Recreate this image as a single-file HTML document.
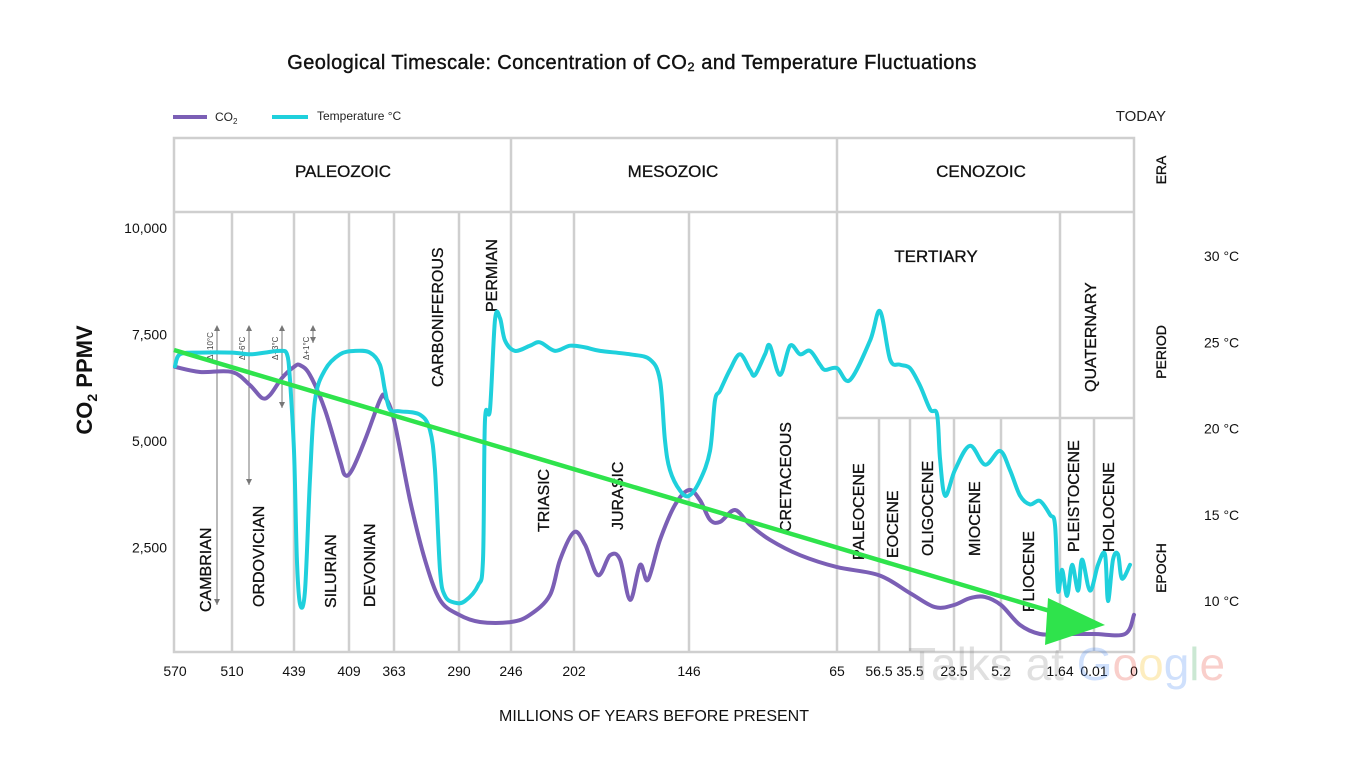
<!DOCTYPE html>
<html><head><meta charset="utf-8"><style>
html,body{margin:0;padding:0;background:#fff;}
svg{display:block;font-family:"Liberation Sans",sans-serif;}
</style></head><body>
<svg id="chart" width="1366" height="768" viewBox="0 0 1366 768">
<text x="632" y="69" text-anchor="middle" font-size="20" letter-spacing="0.4" stroke="#111" stroke-width="0.4" fill="#111">Geological Timescale: Concentration of CO₂ and Temperature Fluctuations</text>
<g>
<line x1="173" y1="117" x2="207" y2="117" stroke="#7b5fb5" stroke-width="4"/>
<text x="215" y="121" font-size="12" fill="#222">CO<tspan font-size="8" dy="3">2</tspan></text>
<line x1="272" y1="117" x2="308" y2="117" stroke="#1fd0dc" stroke-width="4"/>
<text x="317" y="120" font-size="12" fill="#222">Temperature °C</text>
</g>
<text x="1166" y="121" text-anchor="end" font-size="15" fill="#222">TODAY</text>
<g id="grid" stroke="#cfcfcf" stroke-width="2.5" fill="none"></g>
<g id="labels" font-size="16" fill="#111"></g>
<g id="axes"></g>
<g id="series"></g>
<g>
<line x1="174" y1="350" x2="1060" y2="614" stroke="#2fe34c" stroke-width="4.5"/>
<polygon points="1105,625 1048,598 1045,645" fill="#2fe34c"/>
</g>
<text x="92" y="380" transform="rotate(-90 92 380)" text-anchor="middle" font-size="22" font-weight="bold" fill="#111">CO<tspan font-size="14" dy="5">2</tspan><tspan dy="-5"> PPMV</tspan></text>
<text x="654" y="721" text-anchor="middle" font-size="16" fill="#111">MILLIONS OF YEARS BEFORE PRESENT</text>
<g font-size="46" opacity="0.25">
<text x="908" y="680" fill="#888">Talks at <tspan fill="#4285f4">G</tspan><tspan fill="#ea4335">o</tspan><tspan fill="#fbbc05">o</tspan><tspan fill="#4285f4">g</tspan><tspan fill="#34a853">l</tspan><tspan fill="#ea4335">e</tspan></text>
</g>
</svg>
<script>
// x axis tick ages and their column positions (non-linear timescale)
const tickAges=[570,510,439,409,363,290,246,202,146,65,56.5,35.5,23.5,5.2,1.64,0.01,0];
const tickLabels=["570","510","439","409","363","290","246","202","146","65","56.5","35.5","23.5","5.2","1.64","0.01","0"];
const co2Ticks=[10000,7500,5000,2500];
const co2TickLabels=["10,000","7,500","5,000","2,500"];
const tempTicks=[30,25,20,15,10];
const tempTickLabels=["30 °C","25 °C","20 °C","15 °C","10 °C"];
const co2Ages=[570,543.7,510,489.4,475.6,466.5,452.7,439,435.7,430.3,422.1,413.9,411.2,405.9,392.7,377.4,372.2,363,345,328.2,311.3,290,272.2,246,232.7,218.8,211.8,202,196.6,190.3,184.4,179.5,174.7,169.8,166,160.1,152.8,146,140,134.5,129,120.8,112.6,101.7,85.2,65,56.5,35.5,28.7,23.5,17.3,11.5,5.2,4.05,2.85,1.64,0.01,0.00225,0];
const co2Values=[6740,6620,6620,6310,6010,6080,6480,6740,6780,6550,5730,4550,4200,4320,5020,5960,6030,5490,3610,2210,1270,920,750,750,920,1380,2210,2860,2560,1850,2320,2210,1270,2090,1740,2680,3500,3850,3610,3150,3100,3380,3030,2680,2320,2040,1850,1430,1100,1150,1310,1340,1150,680,470,470,470,470,920];
const tempAges=[570,564.7,543.7,510,489.4,472.2,455,447,443.6,439,437.4,435.7,433,430.3,427.6,422.1,413.9,402.9,387.6,377.4,372.2,367.1,356.3,333.8,322.6,317,311.3,305.7,294.5,284.9,273.9,269.7,268,263.8,259.5,255.3,251.1,243.2,232.7,225.8,215.3,204.8,196.6,189.3,174.7,165,160.1,157.7,155.3,150.4,146,140,134.5,131.8,129,123.6,118.1,112.6,109.9,104.4,101.7,96.2,90.7,85.2,79.8,74.3,71.6,65,62.4,58.3,55.8,49,42.3,35.5,32.8,30,28.1,27.3,25.9,23.1,17.3,11.4,5.6,4.66,4.05,3.45,2.85,2.24,1.94,1.76,1.54,1.3,1.06,0.77,0.58,0.2,0.009,0.00725,0.0065,0.00525,0.004,0.003,0.001];
const tempValues=[23.6,24.3,24.4,24.4,24.3,24.4,24.5,24.3,22.8,18.7,12.4,9.8,10.6,17,21.6,23.4,24.3,24.5,24.4,23.7,22.2,21.1,21,20.8,19.9,17.6,11.8,10.3,9.9,10,10.9,12.4,20.5,21.1,26.3,26.4,25.1,24.5,24.8,25,24.5,24.8,24.7,24.5,24.3,24,22.8,19.3,17.6,16.4,16.1,17,18.7,21.6,22.2,23.4,24.3,23.4,23.1,24.3,24.8,23.1,24.8,24.3,24.5,23.7,23.4,23.5,22.8,25.1,26.8,24,23.7,23.5,22.5,21.1,20.8,18.2,16.1,17.6,19,17.9,18.7,17.6,16.1,15.6,15.8,15,14.4,10.6,11.8,10.3,12.1,10.6,12.4,10.6,12.1,12.7,10.0,12.4,12.7,11.3,12.1];
const tickPos=[175,232,294,349,394,459,511,574,689,837,879,910,954,1001,1060,1094,1134];
function xScale(a){
  for(let i=0;i<tickAges.length-1;i++){
    const a0=tickAges[i],a1=tickAges[i+1];
    if(a<=a0&&a>=a1){return tickPos[i]+(a0-a)/(a0-a1)*(tickPos[i+1]-tickPos[i]);}
  }
  return a>tickAges[0]?tickPos[0]:tickPos[tickPos.length-1];
}
function yCO2(v){return 654-v/2500*106.5;}
function yTemp(t){return 601-(t-10)/20*345;}
const NS="http://www.w3.org/2000/svg";
function mk(tag,attrs,parent){const e=document.createElementNS(NS,tag);for(const k in attrs)e.setAttribute(k,attrs[k]);parent.appendChild(e);return e;}
const grid=document.getElementById('grid');
const r=mk('rect',{x:174,y:138,width:960,height:514},grid);


const hl=[[174,212,1134,212],[837,418,1134,418],[511,138,511,652],[837,138,837,652],[1060,212,1060,652]];
[232,294,349,394,459,574,689].forEach(x=>hl.push([x,212,x,652]));
[879,910,954,1001,1094].forEach(x=>hl.push([x,418,x,652]));
hl.forEach(l=>{const e=mk('line',{x1:l[0],y1:l[1],x2:l[2],y2:l[3]},grid);

});
const labels=document.getElementById('labels');
const hor=[["PALEOZOIC",343,177],["MESOZOIC",673,177],["CENOZOIC",981,177],["TERTIARY",936,262]];
hor.forEach(h=>{const t=mk('text',{x:h[1],y:h[2],'text-anchor':'middle','font-size':17,stroke:'#111','stroke-width':0.3},labels);t.textContent=h[0];

});
const vert=[["CAMBRIAN",211,612],["ORDOVICIAN",264,607],["SILURIAN",336,608],["DEVONIAN",375,607],["CARBONIFEROUS",443,387],["PERMIAN",497,312],["TRIASIC",549,532],["JURASIC",623,530],["CRETACEOUS",791,532],["PALEOCENE",864,560],["EOCENE",898,558],["OLIGOCENE",933,556],["MIOCENE",980,556],["PLIOCENE",1034,612],["PLEISTOCENE",1079,552],["HOLOCENE",1114,552],["QUATERNARY",1096,392],["ERA",1166,170,"m"],["PERIOD",1166,352,"m"],["EPOCH",1166,568,"m"]];
vert.forEach(v=>{const t=mk('text',{x:v[1],y:v[2],transform:`rotate(-90 ${v[1]} ${v[2]})`,'text-anchor':v[3]?'middle':'start','font-size':v[3]?14:16,stroke:'#111','stroke-width':0.3},labels);t.textContent=v[0];

});
// small delta-temperature arrows
[["Δ+10°C",217,605],["Δ+6°C",249,485],["Δ+3°C",282,408],["Δ+1°C",313,343]].forEach(d=>{
const g=mk('g',{},labels);


mk('line',{x1:d[1],y1:327,x2:d[1],y2:d[2],stroke:'#777','stroke-width':1},g);
mk('polygon',{points:`${d[1]-3},${d[2]-6} ${d[1]+3},${d[2]-6} ${d[1]},${d[2]}`,fill:'#777'},g);
mk('polygon',{points:`${d[1]-3},331 ${d[1]+3},331 ${d[1]},325`,fill:'#777'},g);
const t=mk('text',{x:d[1]-4,y:360,transform:`rotate(-90 ${d[1]-4} 360)`,'font-size':8,fill:'#444'},g);t.textContent=d[0];});
const axes=document.getElementById('axes');
tickAges.forEach((a,i)=>{const t=mk('text',{x:xScale(a),y:676,'text-anchor':'middle','font-size':14,fill:'#111'},axes);t.textContent=tickLabels[i];

});
co2Ticks.forEach((v,i)=>{const t=mk('text',{x:167,y:yCO2(v)+5,'text-anchor':'end','font-size':14,fill:'#111'},axes);t.textContent=co2TickLabels[i];

});
tempTicks.forEach((v,i)=>{const t=mk('text',{x:1204,y:yTemp(v)+5,'font-size':14,fill:'#111'},axes);t.textContent=tempTickLabels[i];

});
function smooth(pts){let d=`M${pts[0][0]},${pts[0][1]}`;
for(let i=0;i<pts.length-1;i++){const p0=pts[i-1]||pts[i],p1=pts[i],p2=pts[i+1],p3=pts[i+2]||p2;
const c1=[p1[0]+(p2[0]-p0[0])/6,p1[1]+(p2[1]-p0[1])/6],c2=[p2[0]-(p3[0]-p1[0])/6,p2[1]-(p3[1]-p1[1])/6];
d+=` C${c1[0].toFixed(1)},${c1[1].toFixed(1)} ${c2[0].toFixed(1)},${c2[1].toFixed(1)} ${p2[0].toFixed(1)},${p2[1].toFixed(1)}`;}return d;}
const series=document.getElementById('series');
const p1=mk('path',{d:smooth(co2Ages.map((a,i)=>[xScale(a),yCO2(co2Values[i])])),fill:'none',stroke:'#7b5fb5','stroke-width':4,'stroke-linejoin':'round','stroke-linecap':'round'},series);


const p2=mk('path',{d:smooth(tempAges.map((a,i)=>[xScale(a),yTemp(tempValues[i])])),fill:'none',stroke:'#1fd0dc','stroke-width':4,'stroke-linejoin':'round','stroke-linecap':'round'},series);


</script>
</body></html>
